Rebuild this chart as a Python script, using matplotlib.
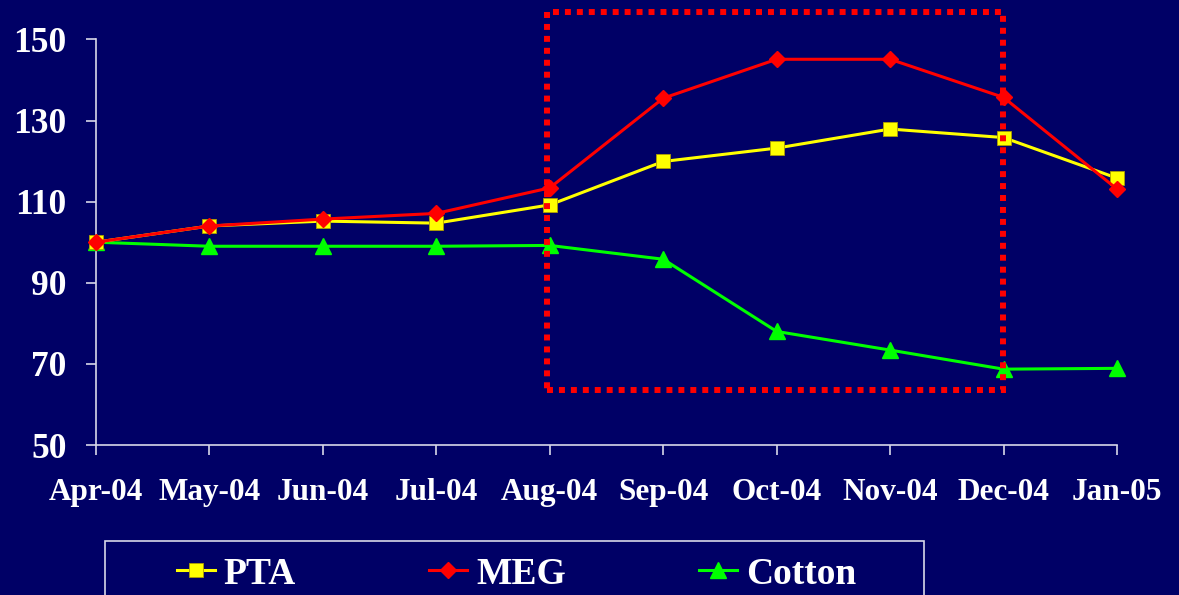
import matplotlib.pyplot as plt
from matplotlib.patches import Rectangle

months = ['Apr-04', 'May-04', 'Jun-04', 'Jul-04', 'Aug-04',
          'Sep-04', 'Oct-04', 'Nov-04', 'Dec-04', 'Jan-05']
pta = [100, 104.0, 105.2, 104.7, 109.2, 119.9, 123.2, 127.9, 125.8, 115.8]
meg = [100, 104.0, 105.7, 107.1, 113.4, 135.5, 145.1, 145.1, 135.7, 113.1]
cotton = [100, 99.0, 99.0, 99.0, 99.2, 95.8, 78.0, 73.4, 68.7, 68.9]
yticks = [50, 70, 90, 110, 130, 150]

bg = '#000066'
fg = '#D8D8E8'
plt.rcParams['font.family'] = 'Liberation Serif'
plt.rcParams['font.weight'] = 'bold'

fig = plt.figure(figsize=(11.79, 5.95), dpi=100, facecolor=bg)
ax = fig.add_axes([96 / 1179, 150 / 595, 1021 / 1179, 405.6 / 595], facecolor=bg)

x = list(range(len(months)))
ax.plot(x, pta, color='#FFFF00', lw=2.2, marker='s', ms=10, mec='#B0A000',
        mew=0.6, label='PTA', clip_on=False, zorder=4)
ax.plot(x, meg, color='#FF0000', lw=2.2, marker='D', ms=8.5, label='MEG',
        clip_on=False, zorder=5)
ax.plot(x, cotton, color='#00FF00', lw=2.2, marker='^', ms=11, label='Cotton',
        clip_on=False, zorder=3)

# highlighted period
box = Rectangle((3.976, 63.6), 4.02, 93.15, fill=False, edgecolor='#FF0000',
                lw=4.3, linestyle=(0, (1, 1)), capstyle='butt', clip_on=False, zorder=6)
ax.add_patch(box)

ax.set_xlim(0, 9)
ax.set_ylim(50, 150)
ax.set_xticks(x)
ax.set_xticklabels(months)
ax.set_yticks(yticks)
for s in ['top', 'right']:
    ax.spines[s].set_visible(False)
for s in ['left', 'bottom']:
    ax.spines[s].set_color(fg)
    ax.spines[s].set_linewidth(1.2)
ax.tick_params(axis='x', colors=fg, length=7, width=1.2, pad=17, labelsize=22.5,
               labelcolor='white')
ax.tick_params(axis='y', colors=fg, length=7, width=1.2, pad=14, labelsize=25.5,
               labelcolor='white')

# legend box runs off the bottom of the slide
fig.patches.append(Rectangle((105 / 1179, -0.2), 819 / 1179, 0.2 + 54 / 595,
                             transform=fig.transFigure, fill=False,
                             edgecolor=fg, lw=1.2))
fig.legend(loc='center left', bbox_to_anchor=(177 / 1179, 21 / 595), ncol=3,
           frameon=False, fontsize=27, labelcolor='white', handlelength=1.0,
           handletextpad=0.25, columnspacing=3.55, borderpad=0, borderaxespad=0)

fig.savefig('out.png', dpi=100, facecolor=bg)
